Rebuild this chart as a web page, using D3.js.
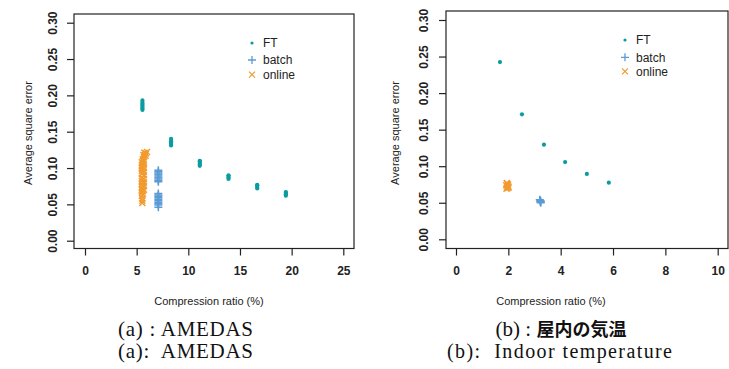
<!DOCTYPE html>
<html><head><meta charset="utf-8">
<script src="https://cdn.jsdelivr.net/npm/d3@7"></script>
<style>
html,body{margin:0;padding:0;background:#fff;}
svg{display:block;}
</style></head>
<body>
<svg id="c" width="729" height="369"></svg>
<script>
// ---- data ----
const xTicksA = [0, 5, 10, 15, 20, 25];
const xTicksB = [0, 2, 4, 6, 8, 10];
const yTicks = [0, 0.05, 0.10, 0.15, 0.20, 0.25, 0.30];
const yTickLabels = ["0.00", "0.05", "0.10", "0.15", "0.20", "0.25", "0.30"];
const seriesNames = ["FT", "batch", "online"];

// (a) AMEDAS
const ftA = [
  [5.56,0.180],[5.56,0.182],[5.56,0.184],[5.56,0.186],[5.56,0.188],[5.56,0.190],[5.56,0.193],
  [8.33,0.131],[8.33,0.133],[8.33,0.135],[8.33,0.137],[8.33,0.140],
  [11.11,0.103],[11.11,0.105],[11.11,0.107],[11.11,0.109],[11.11,0.110],
  [13.89,0.085],[13.89,0.087],[13.89,0.089],[13.89,0.090],
  [16.67,0.072],[16.67,0.074],[16.67,0.076],[16.67,0.077],
  [19.44,0.062],[19.44,0.064],[19.44,0.066],[19.44,0.067]
];
const batchA = [
  [7.1,0.081],[7.1,0.083],[7.1,0.085],[7.1,0.087],[7.1,0.089],[7.1,0.091],[7.1,0.093],[7.1,0.095],[7.1,0.097],
  [7.1,0.046],[7.1,0.049],[7.1,0.051],[7.1,0.053],[7.1,0.055],[7.1,0.057],[7.1,0.059],[7.1,0.061],[7.1,0.063],[7.1,0.065]
];
const onlineA = [
  [5.5,0.062],[5.5,0.066],[5.5,0.070],[5.5,0.074],[5.5,0.078],[5.5,0.082],[5.5,0.086],[5.5,0.092],[5.5,0.096],[5.5,0.100],[5.5,0.104],[5.5,0.108],
  [5.6,0.064],[5.6,0.068],[5.6,0.072],[5.6,0.076],[5.6,0.080],[5.6,0.084],[5.6,0.094],[5.6,0.098],[5.6,0.102],[5.6,0.106],[5.6,0.110],[5.6,0.112],
  [5.7,0.070],[5.7,0.075],[5.7,0.080],[5.7,0.085],[5.7,0.090],[5.7,0.095],[5.7,0.100],[5.7,0.105],[5.7,0.109],
  [5.55,0.052],[5.55,0.055],[5.55,0.058],
  [5.7,0.115],[5.8,0.118],[5.9,0.120],[6.0,0.122],[5.75,0.121],[5.85,0.117],[5.65,0.118]
];

// (b) Indoor temperature
const ftB = [[1.68,0.2425],[2.52,0.171],[3.36,0.1294],[4.17,0.1057],[5.0,0.0895],[5.84,0.0775]];
const batchB = [[3.22,0.051],[3.22,0.053],[3.24,0.052],[3.20,0.054],[3.24,0.050]];
const onlineB = [[1.93,0.069],[1.95,0.071],[1.97,0.073],[1.99,0.075],[1.94,0.077],[2.0,0.070],[1.96,0.076],[1.92,0.074],[2.01,0.072]];

const captionsA = ["(a) : AMEDAS", "(a):  AMEDAS"];
const captionsB = ["(b) : ", "屋内の気温", "(b):  Indoor temperature"];

// ---- style ----
const colFT = "#0a9ca0", colBatch = "#5b9bd5", colOnline = "#f29a2e";
const sans = "'Liberation Sans', Arial, Helvetica, sans-serif";
const serif = "'Liberation Serif', 'DejaVu Serif', serif";

const svg = d3.select("#c");

function panel(cfg) {
  const g = svg.append("g");
  const x = d3.scaleLinear().domain(cfg.xDomain).range(cfg.xRange);
  const y = d3.scaleLinear().domain([0, 0.3]).range(cfg.yRange);

  g.append("rect").attr("x", cfg.box[0]).attr("y", cfg.box[1])
    .attr("width", cfg.box[2] - cfg.box[0]).attr("height", cfg.box[3] - cfg.box[1])
    .attr("fill", "none").attr("stroke", "#222").attr("stroke-width", 1.2);

  const xa = g.append("g").attr("transform", `translate(0,${cfg.box[3]})`)
    .call(d3.axisBottom(x).tickValues(cfg.xTicks).tickSize(7).tickPadding(11).tickFormat(d3.format("d")));
  xa.select(".domain").remove();
  xa.selectAll("line").attr("stroke", "#222").attr("stroke-width", 1.2);
  xa.selectAll("text").attr("font-family", sans).attr("font-size", 12).attr("font-weight", "bold").attr("fill", "#222");

  const ya = g.append("g").attr("transform", `translate(${cfg.box[0]},0)`)
    .call(d3.axisLeft(y).tickValues(yTicks).tickSize(7).tickFormat((d, i) => yTickLabels[i]));
  ya.select(".domain").remove();
  ya.selectAll("line").attr("stroke", "#222").attr("stroke-width", 1.2);
  ya.selectAll("text")
    .attr("x", 0).attr("y", 0).attr("dy", "0.35em")
    .attr("text-anchor", "middle")
    .attr("transform", `translate(${cfg.yLabelOff},0) rotate(-90)`)
    .attr("font-family", sans).attr("font-size", 12).attr("font-weight", "bold").attr("fill", "#222");

  g.append("text").attr("x", cfg.xTitle[0]).attr("y", cfg.xTitle[1]).attr("dy", "0.35em")
    .attr("text-anchor", "middle").attr("font-family", sans).attr("font-size", 11).attr("fill", "#222")
    .text("Compression ratio (%)");
  g.append("text").attr("transform", `translate(${cfg.yTitle[0]},${cfg.yTitle[1]}) rotate(-90)`)
    .attr("dy", "0.35em").attr("text-anchor", "middle").attr("font-family", sans).attr("font-size", 11).attr("fill", "#222")
    .text("Average square error");

  const pts = g.append("g");
  pts.selectAll(".on").data(cfg.online).join("path").attr("class", "on")
    .attr("d", d => { const cx = x(d[0]), cy = y(d[1]), s = 3; return `M${cx-s},${cy-s}L${cx+s},${cy+s}M${cx-s},${cy+s}L${cx+s},${cy-s}`; })
    .attr("stroke", colOnline).attr("stroke-width", 1.4).attr("fill", "none");
  pts.selectAll(".ba").data(cfg.batch).join("path").attr("class", "ba")
    .attr("d", d => { const cx = x(d[0]), cy = y(d[1]), s = 4; return `M${cx-s},${cy}L${cx+s},${cy}M${cx},${cy-s}L${cx},${cy+s}`; })
    .attr("stroke", colBatch).attr("stroke-width", 1.5).attr("fill", "none");
  pts.selectAll(".ft").data(cfg.ft).join("circle").attr("class", "ft")
    .attr("cx", d => x(d[0])).attr("cy", d => y(d[1])).attr("r", 2.1).attr("fill", colFT);

  const lg = g.append("g");
  cfg.legend.forEach((ly, i) => {
    const lx = cfg.legendX;
    if (i === 0) lg.append("circle").attr("cx", lx).attr("cy", ly).attr("r", 1.6).attr("fill", colFT);
    if (i === 1) lg.append("path").attr("d", `M${lx-4},${ly}L${lx+4},${ly}M${lx},${ly-4}L${lx},${ly+4}`).attr("stroke", colBatch).attr("stroke-width", 1.3);
    if (i === 2) lg.append("path").attr("d", `M${lx-3},${ly-3}L${lx+3},${ly+3}M${lx-3},${ly+3}L${lx+3},${ly-3}`).attr("stroke", colOnline).attr("stroke-width", 1.2);
    lg.append("text").attr("x", lx + 11).attr("y", ly).attr("dy", "0.35em")
      .attr("font-family", sans).attr("font-size", 12).attr("fill", "#222").text(seriesNames[i]);
  });
}

panel({
  xDomain: [0, 25], xRange: [85, 343.3], yRange: [240.7, 22.7],
  box: [74, 14, 354, 248.5], xTicks: xTicksA, yLabelOff: -21,
  xTitle: [209, 301], yTitle: [28, 133],
  ft: ftA, batch: batchA, online: onlineA,
  legendX: 252, legend: [43, 60, 74.7]
});
panel({
  xDomain: [0, 10], xRange: [456, 717.7], yRange: [239.3, 20],
  box: [446, 11, 728, 248.5], xTicks: xTicksB, yLabelOff: -22.7,
  xTitle: [551, 301], yTitle: [395, 133],
  ft: ftB, batch: batchB, online: onlineB,
  legendX: 625, legend: [40, 57.3, 71.3]
});

// captions
function cap(txt, cx, by, len, fs) {
  return svg.append("text").attr("x", cx - len / 2).attr("y", by)
    .attr("textLength", len).attr("lengthAdjust", "spacing")
    .attr("font-family", serif).attr("font-size", fs).attr("fill", "#111")
    .style("white-space", "pre").text(txt);
}
cap(captionsA[0], 185.5, 336, 135, 21);
cap(captionsA[1], 185.5, 358, 135, 21);
cap(captionsB[2], 559.5, 358, 225, 20);
const cb = svg.append("text").attr("x", 561).attr("y", 336).attr("text-anchor", "middle")
  .attr("fill", "#111").style("white-space", "pre");
cb.append("tspan").attr("font-family", serif).attr("font-size", 21).text(captionsB[0]);
cb.append("tspan").attr("font-family", "'Noto Sans CJK JP', sans-serif").attr("font-weight", "bold").attr("font-size", 18).text(captionsB[1]);
</script>
</body></html>
